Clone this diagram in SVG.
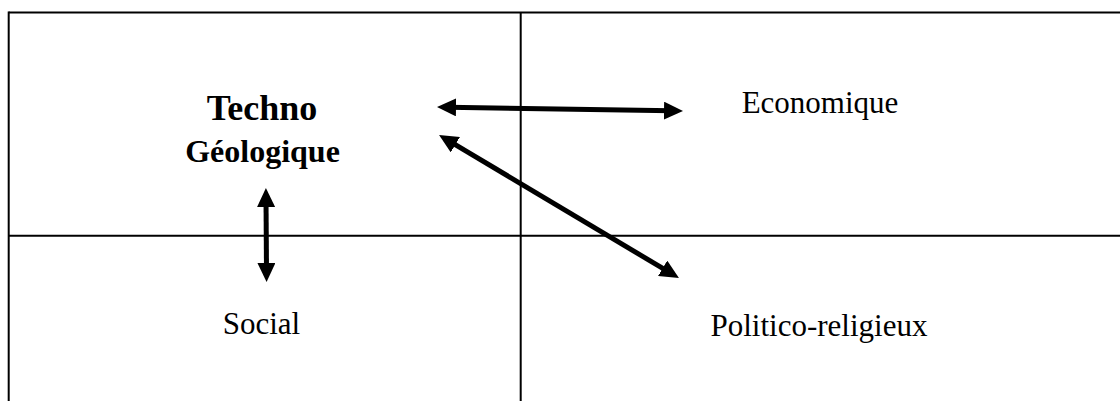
<svg xmlns="http://www.w3.org/2000/svg" width="1120" height="401" viewBox="0 0 1120 401">
  <style>
    .grid { stroke: #000; stroke-width: 2; fill: none; }
    .conn { stroke: #000; stroke-width: 5; fill: none; marker-start: url(#ah); marker-end: url(#ah); }
    .lbl { font-family: "Liberation Serif", "Times New Roman", serif; font-size: 31px; fill: #000; text-anchor: middle; }
    .bold { font-weight: bold; }
  </style>
  <defs>
    <marker id="ah" markerUnits="userSpaceOnUse" viewBox="0 0 19 18" markerWidth="19" markerHeight="18" refX="8" refY="9" orient="auto-start-reverse">
      <path d="M0,0 L19,9 L0,18 z" fill="#000"/>
    </marker>
  </defs>
  <rect width="1120" height="401" fill="#fff"/>
  <g id="grid">
    <line class="grid" x1="8.7" y1="12.5" x2="1120" y2="12.5"/>
    <line class="grid" x1="8.7" y1="11.5" x2="8.7" y2="401"/>
    <line class="grid" x1="520.7" y1="12.5" x2="520.7" y2="401"/>
    <line class="grid" x1="8.7" y1="235.7" x2="1120" y2="235.7"/>
  </g>
  <g id="connectors">
    <line class="conn" x1="448" y1="107.2" x2="672" y2="110.8"/>
    <line class="conn" x1="448.5" y1="140.6" x2="669.5" y2="272.4"/>
    <line class="conn" x1="266" y1="199" x2="266.5" y2="271"/>
  </g>
  <g id="node-techno">
    <text class="lbl bold" x="262" y="120" style="font-size:36px">Techno</text>
    <text class="lbl bold" x="262.5" y="162" style="font-size:32px">Géologique</text>
  </g>
  <g id="node-economique">
    <text class="lbl" x="820" y="113">Economique</text>
  </g>
  <g id="node-social">
    <text class="lbl" x="261.5" y="334">Social</text>
  </g>
  <g id="node-politico">
    <text class="lbl" x="819" y="336">Politico-religieux</text>
  </g>
</svg>
